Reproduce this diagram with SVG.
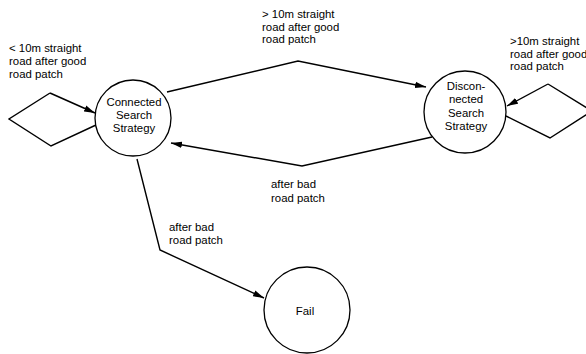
<svg xmlns="http://www.w3.org/2000/svg" width="586" height="354" viewBox="0 0 586 354">
<style>
.n{fill:#fff;stroke:#000;stroke-width:1.3}
.e{fill:none;stroke:#000;stroke-width:1.4}
text{font-family:"Liberation Sans",Arial,sans-serif;font-size:11.4px;fill:#000}
.c{text-anchor:middle}
</style>
<defs>
<marker id="a" markerWidth="12" markerHeight="8" refX="11" refY="4" orient="auto" markerUnits="userSpaceOnUse">
<path d="M0,0.8 L11,4 L0,7.2 Z" fill="#000"/>
</marker>
</defs>
<rect width="586" height="354" fill="#fff"/>
<g id="connectors">
<path class="e" d="M96,125 L51,146 L9,119 L50,93" />
<path class="e" d="M50,93 L95,113" marker-end="url(#a)"/>
<path class="e" d="M167,92 L298,61 L426,87" marker-end="url(#a)"/>
<path class="e" d="M432,137 L302,166 L171,143" marker-end="url(#a)"/>
<path class="e" d="M137,159 L160,250 L264,298" marker-end="url(#a)"/>
<path class="e" d="M506,116 L550,138 L592,111 L548,84" />
<path class="e" d="M548,84 L507,106" marker-end="url(#a)"/>
</g>
<g id="connected">
<circle class="n" cx="133" cy="118" r="38"/>
<text class="c" x="134" y="106">Connected</text>
<text class="c" x="134" y="119">Search</text>
<text class="c" x="134" y="132">Strategy</text>
</g>
<g id="disconnected">
<circle class="n" cx="465" cy="112" r="41"/>
<text class="c" x="466" y="90">Discon-</text>
<text class="c" x="466" y="103">nected</text>
<text class="c" x="466" y="117">Search</text>
<text class="c" x="466" y="130">Strategy</text>
</g>
<g id="fail">
<circle class="n" cx="307" cy="310" r="43"/>
<text class="c" x="305" y="315">Fail</text>
</g>
<g id="labels">
<text x="9" y="52">&lt; 10m straight</text>
<text x="9" y="65">road after good</text>
<text x="9" y="78">road patch</text>
<text x="262" y="18">&gt; 10m straight</text>
<text x="262" y="31">road after good</text>
<text x="262" y="43">road patch</text>
<text x="510" y="45">&gt;10m straight</text>
<text x="510" y="58">road after good</text>
<text x="510" y="70">road patch</text>
<text x="271" y="188">after bad</text>
<text x="271" y="202">road patch</text>
<text x="169" y="231">after bad</text>
<text x="169" y="244">road patch</text>
</g>
</svg>
